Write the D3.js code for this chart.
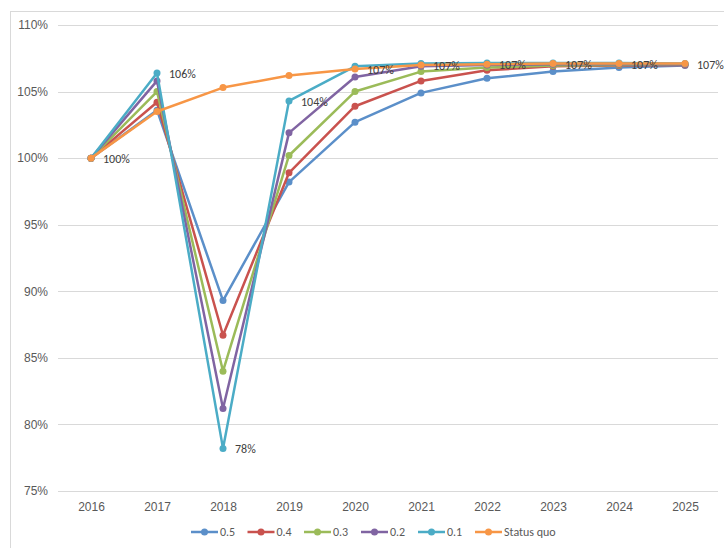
<!DOCTYPE html>
<html>
<head>
<meta charset="utf-8">
<script src="https://cdn.jsdelivr.net/npm/d3@7"></script>
<style>
  body { margin: 0; background: #fff; }
  svg { font-family: Carlito, "Liberation Sans Narrow", "Liberation Sans", Arial, sans-serif; }
  .tick text { fill: #595959; font-size: 12px; }
  .lbl { fill: #404040; font-size: 12px; }
</style>
</head>
<body>
<div id="chart"></div>
<script>
var years = ["2016", "2017", "2018", "2019", "2020", "2021", "2022", "2023", "2024", "2025"];
var seriesNames = ["0.5", "0.4", "0.3", "0.2", "0.1", "Status quo"];
var colors = ["#5b8fc9", "#c9524e", "#9bbb59", "#8064a2", "#4bacc6", "#f79646"];

var s05 = [100, 103.6, 89.3, 98.2, 102.7, 104.9, 106.0, 106.5, 106.8, 106.95];
var s04 = [100, 104.2, 86.7, 98.9, 103.9, 105.8, 106.6, 106.9, 106.95, 107.0];
var s03 = [100, 105.0, 84.0, 100.2, 105.0, 106.5, 106.8, 106.95, 107.0, 107.05];
var s02 = [100, 105.8, 81.2, 101.9, 106.1, 106.9, 107.0, 107.05, 107.05, 107.05];
var s01 = [100, 106.4, 78.2, 104.3, 106.9, 107.1, 107.15, 107.15, 107.15, 107.1];
var sq  = [100, 103.5, 105.3, 106.2, 106.7, 107.0, 107.05, 107.1, 107.1, 107.1];
var allSeries = [s05, s04, s03, s02, s01, sq];

var yTicks = [75, 80, 85, 90, 95, 100, 105, 110];

// data labels: series index, year index, text
var labels = [
  {s: 5, i: 0, t: "100%"},
  {s: 4, i: 1, t: "106%"},
  {s: 4, i: 2, t: "78%"},
  {s: 4, i: 3, t: "104%"},
  {s: 5, i: 4, t: "107%"},
  {s: 5, i: 5, t: "107%"},
  {s: 5, i: 6, t: "107%"},
  {s: 5, i: 7, t: "107%"},
  {s: 5, i: 8, t: "107%"},
  {s: 5, i: 9, t: "107%"}
];

var W = 724, H = 548;
var margin = {top: 25, right: 6, bottom: 57, left: 58},
    width = W - margin.left - margin.right,
    height = H - margin.top - margin.bottom;

var svg = d3.select("#chart").append("svg")
    .attr("width", W)
    .attr("height", H);

// chart frame
svg.append("rect")
    .attr("x", 10.5).attr("y", 11.5)
    .attr("width", 740).attr("height", 560)
    .attr("fill", "none")
    .attr("stroke", "#d9d9d9");

var g = svg.append("g")
    .attr("transform", "translate(" + margin.left + "," + margin.top + ")");

var x = d3.scalePoint()
    .domain(years)
    .range([0, width])
    .padding(0.5);
var y = d3.scaleLinear()
    .domain([75, 110])
    .range([466, 0]);

// gridlines
g.append("g")
    .selectAll("line")
    .data(yTicks)
    .enter().append("line")
    .attr("x1", 0).attr("x2", width)
    .attr("y1", function (d) { return Math.round(y(d)) + 0.5; })
    .attr("y2", function (d) { return Math.round(y(d)) + 0.5; })
    .attr("stroke", "#d9d9d9");

// y axis
var yAxis = g.append("g")
    .call(d3.axisLeft(y).tickValues(yTicks).tickSize(0).tickPadding(10)
        .tickFormat(function (d) { return d + "%"; }));
yAxis.select(".domain").remove();

// x axis
var xAxis = g.append("g")
    .attr("transform", "translate(0," + 466 + ")")
    .call(d3.axisBottom(x).tickSize(0).tickPadding(11));
xAxis.select(".domain").remove();

var line = d3.line()
    .x(function (d, i) { return x(years[i]); })
    .y(function (d) { return y(d); });

allSeries.forEach(function (vals, k) {
    var sg = g.append("g");
    sg.append("path")
        .datum(vals)
        .attr("fill", "none")
        .attr("stroke", colors[k])
        .attr("stroke-width", 2.5)
        .attr("stroke-linejoin", "round")
        .attr("d", line);
    sg.selectAll("circle")
        .data(vals)
        .enter().append("circle")
        .attr("cx", function (d, i) { return x(years[i]); })
        .attr("cy", function (d) { return y(d); })
        .attr("r", 3.5)
        .attr("fill", colors[k]);
});

g.selectAll(".lbl")
    .data(labels)
    .enter().append("text")
    .attr("class", "lbl")
    .attr("x", function (d) { return x(years[d.i]) + 12; })
    .attr("y", function (d) { return y(allSeries[d.s][d.i]) + 5; })
    .text(function (d) { return d.t; });

// legend
var legend = svg.append("g")
    .attr("transform", "translate(191,532)");
var offs = [0, 56.5, 113, 170, 227, 284];
seriesNames.forEach(function (n, k) {
    var lg = legend.append("g").attr("transform", "translate(" + offs[k] + ",0)");
    lg.append("line")
        .attr("x1", 0).attr("x2", 27)
        .attr("stroke", colors[k]).attr("stroke-width", 2.5);
    lg.append("circle")
        .attr("cx", 13.5).attr("r", 3.5).attr("fill", colors[k]);
    lg.append("text")
        .attr("x", 29).attr("y", 4)
        .attr("fill", "#595959")
        .style("font-size", "12px")
        .text(n);
});
</script>
</body>
</html>
